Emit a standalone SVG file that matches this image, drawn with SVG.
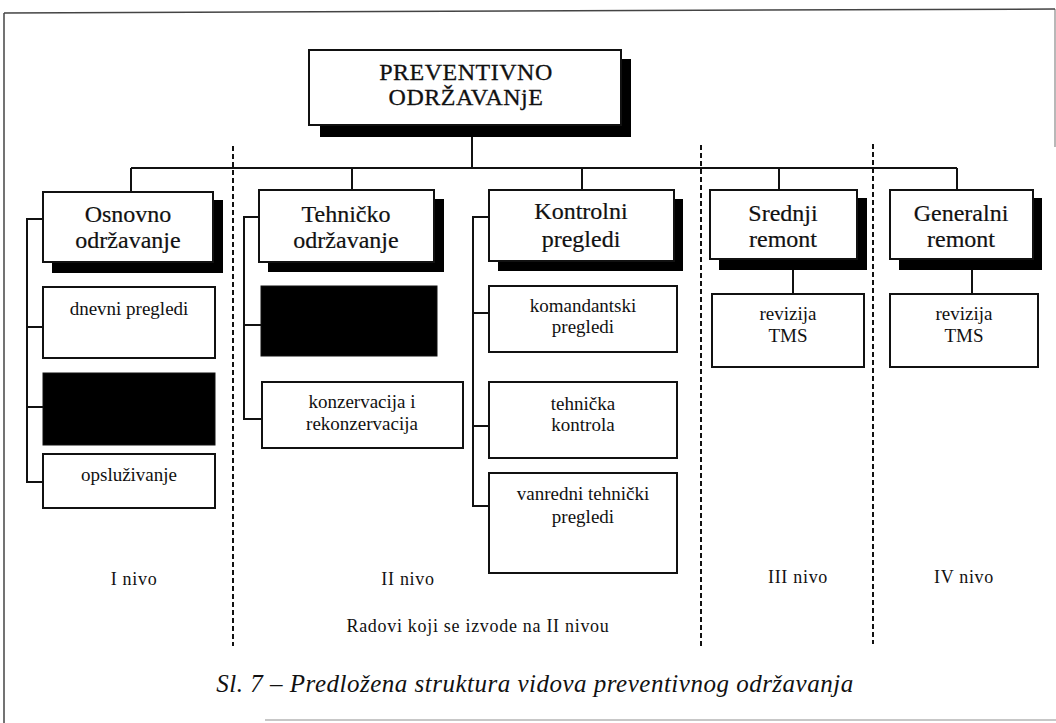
<svg xmlns="http://www.w3.org/2000/svg" width="1056" height="723" viewBox="0 0 1056 723">
<style>
.box{fill:#fff;stroke:#111;stroke-width:2}
.shadow{fill:#000}
.blk{fill:#000;stroke:#111;stroke-width:1}
.ln{fill:none;stroke:#111;stroke-width:2}
.dash{fill:none;stroke:#111;stroke-width:2;stroke-dasharray:5,3}
.frame{fill:none;stroke:#444;stroke-width:1.5}
text{font-family:"Liberation Serif","Times New Roman",serif;fill:#111;text-anchor:middle}
.t0{font-size:24px;letter-spacing:0.5px;stroke:#111;stroke-width:0.3}
.h{font-size:24px;stroke:#111;stroke-width:0.2}
.s{font-size:19px}
.n{font-size:18px;letter-spacing:0.7px}
.cap{font-size:25px;font-style:italic;letter-spacing:0.5px}
</style>
<rect width="1056" height="723" fill="#fff"/>
<g id="frame">
<line class="frame" x1="4" y1="13" x2="4" y2="723"/>
<line class="frame" x1="4" y1="13" x2="1055" y2="9"/>
<line class="frame" x1="1055" y1="9" x2="1055" y2="147" stroke-opacity="0.5"/>
<line class="frame" x1="265" y1="720" x2="1056" y2="720" stroke-opacity="0.4"/>
</g>
<g id="connectors">
<line class="ln" x1="472" y1="125" x2="472" y2="168"/>
<line class="ln" x1="131" y1="168" x2="957" y2="168"/>
<line class="ln" x1="131" y1="168" x2="131" y2="192"/>
<line class="ln" x1="352" y1="168" x2="352" y2="190"/>
<line class="ln" x1="582" y1="168" x2="582" y2="190"/>
<line class="ln" x1="779" y1="168" x2="779" y2="190"/>
<line class="ln" x1="957" y1="168" x2="957" y2="190"/>
<path class="ln" d="M43 219 H27 V482 H43 M27 327 H43 M27 407 H43"/>
<path class="ln" d="M259 217 H244 V419 H262 M244 325 H261"/>
<path class="ln" d="M489 217 H473 V506 H489 M473 313 H489 M473 426 H489"/>
<line class="ln" x1="793" y1="259" x2="793" y2="294"/>
<line class="ln" x1="972" y1="259" x2="972" y2="294"/>
<line class="dash" x1="233" y1="146" x2="233" y2="646"/>
<line class="dash" x1="701" y1="145" x2="701" y2="646"/>
<line class="dash" x1="873" y1="144" x2="873" y2="644"/>
</g>
<g id="root">
<rect class="shadow" x="320" y="59" width="311" height="78"/>
<rect class="box" x="309" y="50" width="312" height="75"/>
<text class="t0" x="466" y="80">PREVENTIVNO</text>
<text class="t0" x="466" y="105">ODRŽAVANjE</text>
</g>
<g id="osnovno">
<rect class="shadow" x="52" y="200" width="171" height="73"/>
<rect class="box" x="43" y="192" width="170" height="70"/>
<text class="h" x="128" y="222">Osnovno</text>
<text class="h" x="128" y="248">održavanje</text>
</g>
<g id="dnevni">
<rect class="box" x="43" y="287" width="172" height="71"/>
<text class="s" x="129" y="315">dnevni pregledi</text>
</g>
<g id="osnovno-black">
<rect class="blk" x="43" y="373" width="172" height="72"/>
</g>
<g id="opsluzivanje">
<rect class="box" x="43" y="454" width="172" height="54"/>
<text class="s" x="129" y="481">opsluživanje</text>
</g>
<g id="tehnicko">
<rect class="shadow" x="268" y="199" width="176" height="73"/>
<rect class="box" x="259" y="190" width="175" height="72"/>
<text class="h" x="346" y="222">Tehničko</text>
<text class="h" x="346" y="248">održavanje</text>
</g>
<g id="tehnicko-black">
<rect class="blk" x="261" y="286" width="176" height="70"/>
</g>
<g id="konzervacija">
<rect class="box" x="262" y="382" width="201" height="66"/>
<text class="s" x="362" y="408">konzervacija i</text>
<text class="s" x="362" y="430">rekonzervacija</text>
</g>
<g id="kontrolni">
<rect class="shadow" x="498" y="199" width="185" height="72"/>
<rect class="box" x="489" y="190" width="185" height="71"/>
<text class="h" x="581" y="219">Kontrolni</text>
<text class="h" x="581" y="247">pregledi</text>
</g>
<g id="komandantski">
<rect class="box" x="489" y="286" width="188" height="66"/>
<text class="s" x="583" y="312">komandantski</text>
<text class="s" x="583" y="333">pregledi</text>
</g>
<g id="tehnicka-kontrola">
<rect class="box" x="489" y="382" width="188" height="76"/>
<text class="s" x="583" y="410">tehnička</text>
<text class="s" x="583" y="431">kontrola</text>
</g>
<g id="vanredni">
<rect class="box" x="489" y="473" width="188" height="100"/>
<text class="s" x="583" y="500">vanredni tehnički</text>
<text class="s" x="583" y="523">pregledi</text>
</g>
<g id="srednji">
<rect class="shadow" x="719" y="198" width="148" height="72"/>
<rect class="box" x="710" y="190" width="147" height="69"/>
<text class="h" x="783" y="221">Srednji</text>
<text class="h" x="783" y="247">remont</text>
</g>
<g id="srednji-revizija">
<rect class="box" x="712" y="294" width="152" height="73"/>
<text class="s" x="788" y="320">revizija</text>
<text class="s" x="788" y="342">TMS</text>
</g>
<g id="generalni">
<rect class="shadow" x="899" y="198" width="143" height="72"/>
<rect class="box" x="890" y="190" width="143" height="69"/>
<text class="h" x="961" y="221">Generalni</text>
<text class="h" x="961" y="247">remont</text>
</g>
<g id="generalni-revizija">
<rect class="box" x="890" y="294" width="148" height="73"/>
<text class="s" x="964" y="320">revizija</text>
<text class="s" x="964" y="342">TMS</text>
</g>
<g id="labels">
<text class="n" x="134" y="585">I nivo</text>
<text class="n" x="408" y="585">II nivo</text>
<text class="n" x="798" y="583">III nivo</text>
<text class="n" x="964" y="583">IV nivo</text>
<text class="n" x="478" y="632">Radovi koji se izvode na II nivou</text>
<text class="cap" x="535" y="692">Sl. 7 – Predložena struktura vidova preventivnog održavanja</text>
</g>
</svg>
